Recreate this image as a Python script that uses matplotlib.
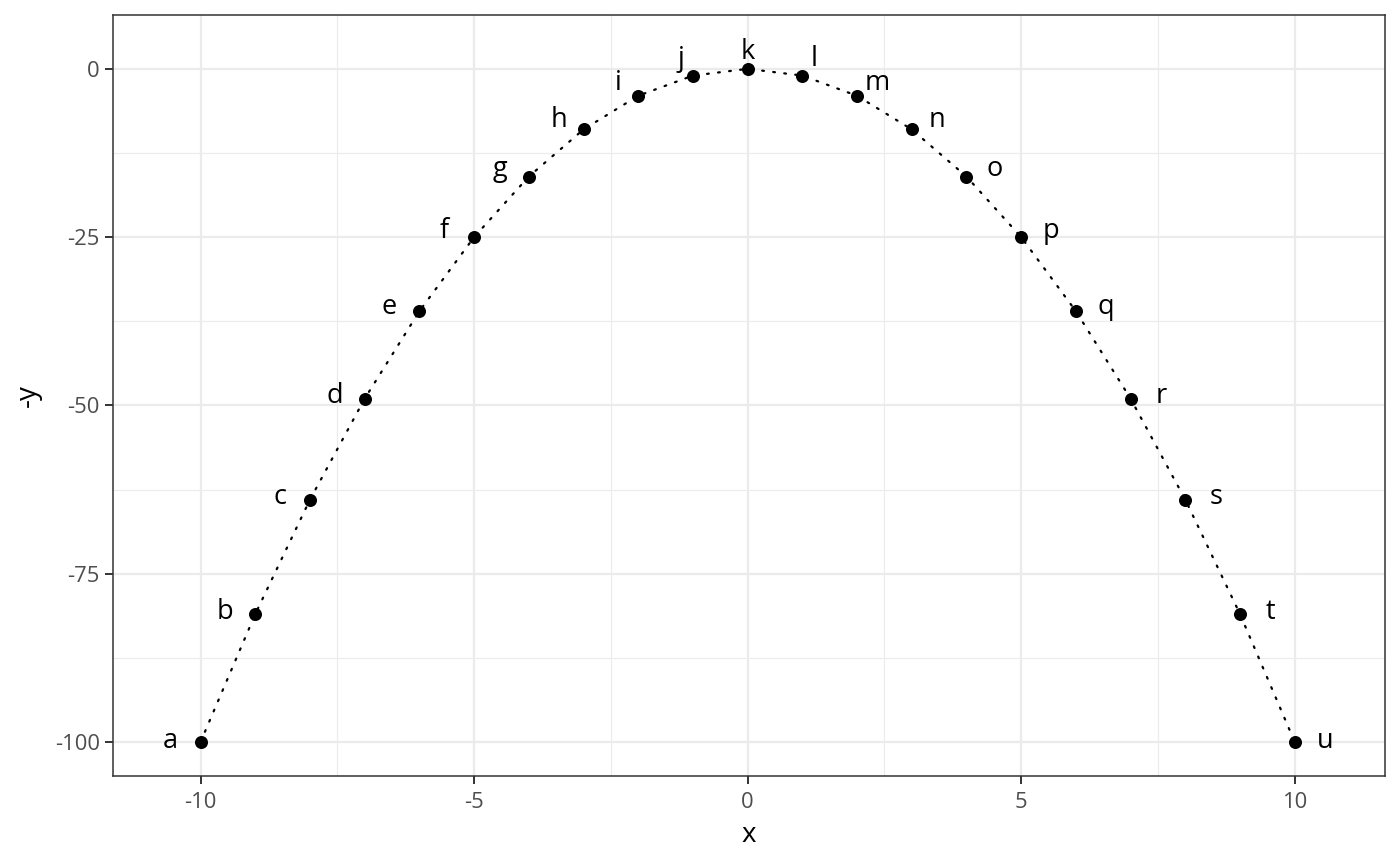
import numpy as np
import matplotlib
matplotlib.use('Agg')
import matplotlib.pyplot as plt
from matplotlib.ticker import MultipleLocator

plt.rcParams['font.family'] = ['Open Sans', 'DejaVu Sans']
plt.rcParams['axes.unicode_minus'] = False

# data: labels a..u on y = -x^2
xs = np.array([-10, -9, -8, -7, -6, -5, -4, -3, -2, -1, 0,
               1, 2, 3, 4, 5, 6, 7, 8, 9, 10])
ys = np.array([-100, -81, -64, -49, -36, -25, -16, -9, -4, -1, 0,
               -1, -4, -9, -16, -25, -36, -49, -64, -81, -100])
labels = list('abcdefghijklmnopqrstu')

GRID = '#EBEBEB'
DARK = '#333333'

fig = plt.figure(figsize=(14, 8.66), dpi=100)
ax = fig.add_axes([113 / 1400, 1 - 776 / 866, 1272 / 1400, 761 / 866])

ax.plot(xs, ys, color='black', lw=1.6, ls=(0, (0.8, 4.2)),
        dash_capstyle='round', zorder=2)
ax.scatter(xs, ys, s=88, color='black', zorder=3, linewidths=0)

# put each label outward from the curve, roughly like ggrepel did
slope = np.gradient(ys, xs) * 0.3
for x, y, lab, s in zip(xs, ys, labels, slope):
    n = np.array([-s, 1.0])
    n /= np.hypot(*n)
    r = 21 + 10 * min(abs(x), 4) / 4
    ax.annotate(lab, (x, y), xytext=(n[0] * r, n[1] * r - 4),
                textcoords='offset pixels', ha='center', va='center',
                fontsize=19.5, color='black', zorder=4)

ax.set_xlim(-11.6, 11.65)
ax.set_ylim(-105.05, 8.0)
ax.xaxis.set_major_locator(MultipleLocator(5))
ax.xaxis.set_minor_locator(MultipleLocator(2.5))
ax.yaxis.set_major_locator(MultipleLocator(25))
ax.yaxis.set_minor_locator(MultipleLocator(12.5))
ax.grid(which='major', color=GRID, lw=1.6, zorder=0)
ax.grid(which='minor', color=GRID, lw=0.8, zorder=0)
ax.set_axisbelow(True)

ax.tick_params(which='major', length=5.5, width=1.4, color=DARK,
               labelsize=15.8, labelcolor='#4D4D4D', pad=4)
ax.tick_params(axis='x', which='major', pad=6)
ax.tick_params(which='minor', length=0)
for sp in ax.spines.values():
    sp.set_color(DARK)
    sp.set_linewidth(1.1)

ax.set_xlabel('x', fontsize=20, color='black', labelpad=6)
ax.set_ylabel('-y', fontsize=20, color='black', labelpad=9)

fig.savefig('out.png', dpi=100)
